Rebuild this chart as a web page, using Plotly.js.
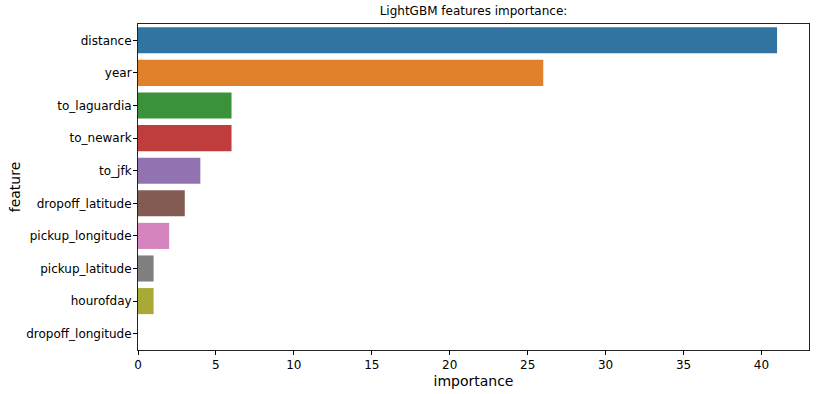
<!DOCTYPE html>
<html>
<head>
<meta charset="utf-8">
<script src="https://cdn.plot.ly/plotly-3.0.1.min.js"></script>
<style>html,body{margin:0;padding:0;background:#fff;}#chart{width:818px;height:394px;}</style>
</head>
<body>
<div id="chart"></div>
<script>
const features = ["distance","year","to_laguardia","to_newark","to_jfk","dropoff_latitude","pickup_longitude","pickup_latitude","hourofday","dropoff_longitude"];
const importance = [41, 26, 6, 6, 4, 3, 2, 1, 1, 0];
const barColors = ["#3274a1","#e1812c","#3a923a","#c03d3e","#9372b2","#845b53","#d684bd","#7f7f7f","#a9aa35","#2ebece"];
const xTicks = [0,5,10,15,20,25,30,35,40];

const trace = {
  type: "bar",
  orientation: "h",
  x: importance,
  y: features,
  width: 0.8,
  marker: {color: barColors, line: {width: 0}},
  hoverinfo: "x+y"
};

const layout = {
  width: 818, height: 394,
  margin: {l: 138, r: 9, t: 24, b: 44, pad: 0},
  paper_bgcolor: "#fff", plot_bgcolor: "#fff",
  font: {family: "DejaVu Sans", size: 12, color: "#000"},
  title: {text: "LightGBM features importance:", font: {family: "DejaVu Sans", size: 12, color: "#000"}, x: 0.5, xref: "paper", xanchor: "center", y: 1, yref: "container", yanchor: "top", pad: {t: 7}},
  showlegend: false,
  bargap: 0.2,
  xaxis: {
    range: [0, 43.05],
    tickvals: xTicks,
    ticktext: xTicks.map(String),
    ticks: "outside", ticklen: 4, tickwidth: 1, tickcolor: "#000",
    showgrid: false, zeroline: false,
    showline: true, linecolor: "#222", linewidth: 1, mirror: true,
    tickfont: {size: 12, color: "#000"},
    title: {text: "importance", font: {size: 14, color: "#000"}, standoff: 4}
  },
  yaxis: {
    type: "category",
    categoryorder: "array", categoryarray: features,
    autorange: "reversed",
    ticks: "outside", ticklen: 4, tickwidth: 1, tickcolor: "#000",
    showgrid: false, zeroline: false,
    showline: true, linecolor: "#222", linewidth: 1, mirror: true,
    tickfont: {size: 12, color: "#000"},
    ticklabelstandoff: -1,
    title: {text: "feature", font: {size: 14, color: "#000"}, standoff: 2}
  }
};

Plotly.newPlot("chart", [trace], layout, {displayModeBar: false, staticPlot: true});
</script>
</body>
</html>
